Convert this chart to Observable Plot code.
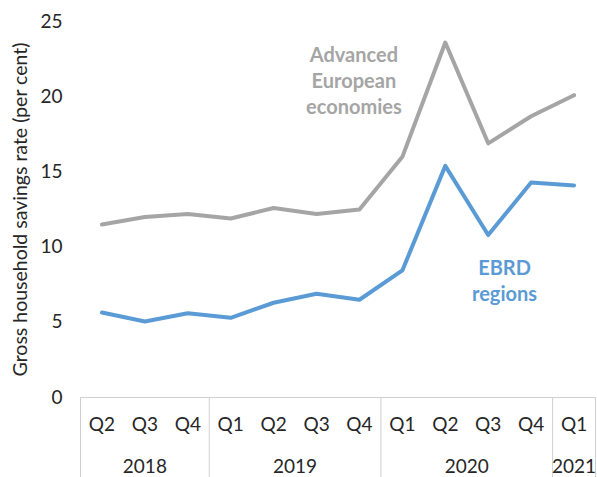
<!DOCTYPE html>
<html>
<head>
<meta charset="utf-8">
<script src="https://cdn.jsdelivr.net/npm/d3@7"></script>
<script src="https://cdn.jsdelivr.net/npm/@observablehq/plot@0.6"></script>
<style>
  html, body { margin: 0; padding: 0; background: #fff; }
  svg { display: block; }
</style>
</head>
<body>
<div id="chart"></div>
<script>
const quarters = ["Q2","Q3","Q4","Q1","Q2","Q3","Q4","Q1","Q2","Q3","Q4","Q1"];
const years = ["2018","2019","2020","2021"];
const yearStarts = [0, 3, 7, 11];
const yearEnds = [2, 6, 10, 11];
const advanced = [11.5, 12.0, 12.2, 11.9, 12.6, 12.2, 12.5, 16.0, 23.6, 16.9, 18.7, 20.1];
const ebrd = [5.65, 5.05, 5.6, 5.3, 6.3, 6.9, 6.5, 8.45, 15.4, 10.8, 14.3, 14.1];
const seriesNames = ["Advanced\nEuropean\neconomies", "EBRD\nregions"];
const seriesColors = ["#a5a5a5", "#5b9bd5"];
const labelX = [5.87, 9.38];
const labelY = [21.1, 7.85];

const idx = quarters.map((_, i) => i);
const advData = idx.map(i => ({i, v: advanced[i]}));
const ebrdData = idx.map(i => ({i, v: ebrd[i]}));
const boundaries = [yearStarts[0] - 0.5, ...yearEnds.map(e => e + 0.5)];
const yearMids = years.map((_, k) => (yearStarts[k] + yearEnds[k]) / 2);
const labels = seriesNames.map((t, k) => ({t, x: labelX[k], y: labelY[k], c: seriesColors[k]}));

const font = "Lato, 'Open Sans', sans-serif";
const textColor = "#262626";

const chart = Plot.plot({
  width: 597,
  height: 477,
  marginLeft: 80,
  marginRight: 2,
  marginTop: 21,
  marginBottom: 80,
  style: {fontFamily: font, fontSize: "19px", color: textColor, background: "#fff"},
  x: {domain: [-0.5, 11.5]},
  y: {domain: [0, 25]},
  marks: [
    Plot.axisY({ticks: [0,5,10,15,20,25], tickSize: 0, tickPadding: 18, fontSize: 19,
      label: "Gross household savings rate (per cent)", labelAnchor: "center", labelArrow: "none", labelOffset: 67}),
    Plot.axisX({ticks: boundaries, tickSize: 80, tickFormat: () => "", stroke: "#d0d0d0", label: null}),
    Plot.axisX({ticks: idx, tickSize: 0, tickPadding: 20, tickFormat: i => quarters[i], fontSize: 19, label: null}),
    Plot.axisX({ticks: yearMids, tickSize: 0, tickPadding: 62, tickFormat: (d, k) => years[k], fontSize: 19, label: null}),
    Plot.ruleY([0], {stroke: "#d0d0d0"}),
    Plot.line(advData, {x: "i", y: "v", stroke: seriesColors[0], strokeWidth: 4}),
    Plot.line(ebrdData, {x: "i", y: "v", stroke: seriesColors[1], strokeWidth: 4}),
    Plot.text(labels, {x: "x", y: "y", text: "t", fill: "c", fontWeight: "bold", fontSize: 20, lineHeight: 1.3})
  ]
});
chart.querySelectorAll("[aria-label='y-axis label'] text, g[aria-label='y-axis label']").forEach(el => el.setAttribute("font-size", "19.5"));
document.getElementById("chart").appendChild(chart);
</script>
</body>
</html>
